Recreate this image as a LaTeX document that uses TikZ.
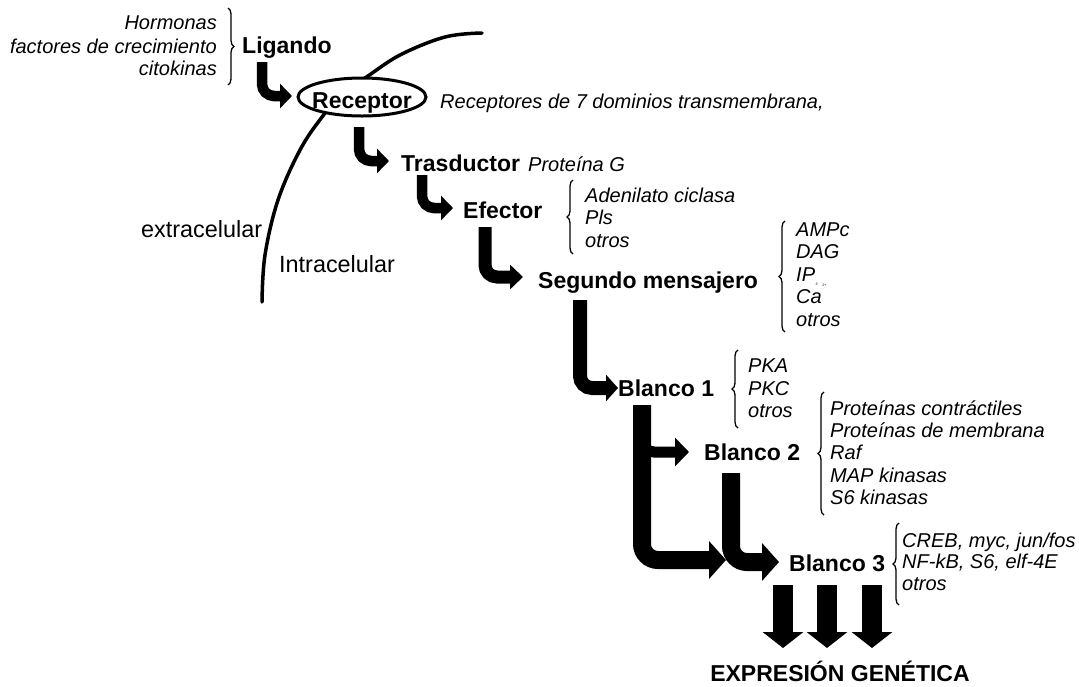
\documentclass[tikz,border=0pt]{standalone}
\usepackage{fontspec}
\setmainfont{Liberation Sans}
\usetikzlibrary{arrows.meta,decorations.pathreplacing,shapes.geometric}
\begin{document}
\begin{tikzpicture}[x=1pt,y=-1pt,
  lab/.style={font=\fontsize{23}{27}\selectfont\bfseries, inner sep=0pt},
  itl/.style={font=\fontsize{20}{24}\selectfont\itshape, inner sep=0pt},
  pln/.style={font=\fontsize{23.4}{27}\selectfont, inner sep=0pt},
  flow/.style={line width=#1, rounded corners=12pt},
  brc/.style={decorate, decoration={brace, amplitude=6pt}, line width=1.3pt},
  memb/.style={line width=3.5pt, line cap=round}
]
\useasboundingbox (0,0) rectangle (1079,686);

% membrane
\draw[memb] plot[smooth, tension=0.6] coordinates {(262,302) (265,255) (278,200) (300,150) (322,117) (345,90) (365,78) (400,55) (445,37) (482,33)};

% texts
\node[itl, anchor=base east] (h1) at (217,29) {Hormonas};
\node[itl, anchor=base east] (h2) at (217,53) {factores de crecimiento};
\node[itl, anchor=base east] (h3) at (217,75) {citokinas};
\draw[brc] (228,8) -- (228,85);
\node[lab, anchor=base west] (lig) at (242,53) {Ligando};

\node[ellipse, draw, line width=3pt, fill=white, minimum width=128pt, minimum height=38pt, inner sep=0pt] (rec) at (362,97) {};
\node[lab, anchor=base] (rect) at (362,108) {Receptor};
\node[itl, anchor=base west] (rec7) at (440,108) {Receptores de 7 dominios transmembrana,};

\node[lab, anchor=base west] (tras) at (401,171) {Trasductor};
\node[itl, anchor=base west] (protg) at (528,171) {Proteína G};

\node[lab, anchor=base west] (efe) at (463,218) {Efector};
\draw[brc] (573,254) -- (573,180);
\node[itl, anchor=base west] (e1) at (585,202) {Adenilato ciclasa};
\node[itl, anchor=base west] (e2) at (585,224.5) {Pls};
\node[itl, anchor=base west] (e3) at (585,247) {otros};

\node[pln, anchor=base west] (extra) at (141,237) {extracelular};
\node[pln, anchor=base west] (intra) at (279,272) {Intracelular};

\node[lab, anchor=base west] (seg) at (538,288) {Segundo mensajero};
\draw[brc] (785,332) -- (785,221);
\node[itl, anchor=base west] (s1) at (796,236) {AMPc};
\node[itl, anchor=base west] (s2) at (796,258.5) {DAG};
\node[itl, anchor=base west] (s3) at (796,281) {IP{\fontsize{3.5}{3.5}\selectfont\raisebox{-4pt}{\,3}}};
\node[itl, anchor=base west] (s4) at (796,303.5) {Ca{\fontsize{3.5}{3.5}\selectfont\raisebox{17pt}{\,2+}}};
\node[itl, anchor=base west] (s5) at (796,326) {otros};

\node[lab, anchor=base west] (b1) at (618,396) {Blanco 1};
\draw[brc] (738,428) -- (738,350);
\node[itl, anchor=base west] (p1) at (748,372) {PKA};
\node[itl, anchor=base west] (p2) at (748,395) {PKC};
\node[itl, anchor=base west] (p3) at (748,417) {otros};

\node[lab, anchor=base west] (b2) at (704,460) {Blanco 2};
\draw[brc] (824,515) -- (824,392);
\node[itl, anchor=base west] (q1) at (830,415) {Proteínas contráctiles};
\node[itl, anchor=base west] (q2) at (830,437) {Proteínas de membrana};
\node[itl, anchor=base west] (q3) at (830,459.5) {Raf};
\node[itl, anchor=base west] (q4) at (830,482) {MAP kinasas};
\node[itl, anchor=base west] (q5) at (830,504) {S6 kinasas};

\node[lab, anchor=base west] (b3) at (789,571) {Blanco 3};
\draw[brc] (899,605) -- (899,523);
\node[itl, anchor=base west] (r1) at (902,547) {CREB, myc, jun/fos};
\node[itl, anchor=base west] (r2) at (902,568.5) {NF-kB, S6, elf-4E};
\node[itl, anchor=base west] (r3) at (902,590) {otros};

\node[lab, anchor=base] (expr) at (840,681) {EXPRESIÓN GENÉTICA};

% arrow coordinates
\coordinate (a1s) at (262,62);  \coordinate (a1c) at (262,96);  \coordinate (a1e) at (292,96);
\coordinate (a2s) at (359,127); \coordinate (a2c) at (359,161); \coordinate (a2e) at (389,161);
\coordinate (a3s) at (422,175); \coordinate (a3c) at (422,208); \coordinate (a3e) at (453,208);
\coordinate (a4s) at (485,227); \coordinate (a4c) at (485,277); \coordinate (a4e) at (523,277);
\coordinate (a5s) at (580,300); \coordinate (a5c) at (580,388); \coordinate (a5e) at (618,388);
\coordinate (a6s) at (642,405); \coordinate (a6c) at (642,560); \coordinate (a6e) at (726,560);
\coordinate (a7s) at (642,420); \coordinate (a7c) at (642,452); \coordinate (a7e) at (689,452);
\coordinate (a8s) at (731,473); \coordinate (a8c) at (731,562); \coordinate (a8e) at (779,562);

\draw[flow=10.5pt, -{Triangle[width=24pt,length=12pt]}] (a1s) -- (a1c) -- (a1e);
\draw[flow=10.5pt, -{Triangle[width=24pt,length=12pt]}] (a2s) -- (a2c) -- (a2e);
\draw[flow=10.5pt, -{Triangle[width=24pt,length=12pt]}] (a3s) -- (a3c) -- (a3e);
\draw[flow=13pt, -{Triangle[width=24pt,length=13pt]}] (a4s) -- (a4c) -- (a4e);
\draw[flow=14pt, -{Triangle[width=26pt,length=12pt]}] (a5s) -- (a5c) -- (a5e);
\draw[flow=18pt, rounded corners=16pt, -{Triangle[width=37pt,length=17pt]}] (a6s) -- (a6c) -- (a6e);
\draw[flow=11pt, -{Triangle[width=28pt,length=14pt]}] (a7s) -- (a7c) -- (a7e);
\draw[flow=18pt, rounded corners=16pt, -{Triangle[width=37pt,length=17pt]}] (a8s) -- (a8c) -- (a8e);

% output arrows
\coordinate (d1s) at (783,585); \coordinate (d1e) at (783,648);
\coordinate (d2s) at (827,585); \coordinate (d2e) at (827,648);
\coordinate (d3s) at (872,585); \coordinate (d3e) at (872,648);
\draw[line width=20pt, -{Triangle[width=40pt,length=16pt]}] (d1s) -- (d1e);
\draw[line width=20pt, -{Triangle[width=40pt,length=16pt]}] (d2s) -- (d2e);
\draw[line width=20pt, -{Triangle[width=40pt,length=16pt]}] (d3s) -- (d3e);
\end{tikzpicture}
\end{document}
